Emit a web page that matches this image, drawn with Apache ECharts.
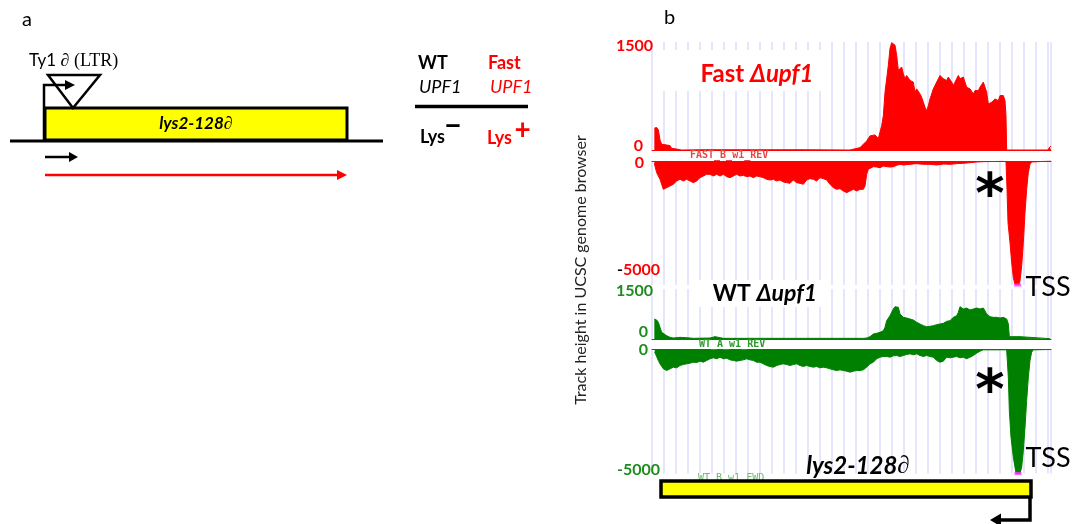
<!DOCTYPE html>
<html><head><meta charset="utf-8">
<script src="https://cdn.jsdelivr.net/npm/echarts@6/dist/echarts.min.js"></script>
<style>html,body{margin:0;padding:0;background:#fff}#c{width:1078px;height:524px}</style>
</head><body><div id="c"></div>
<script>
// ---- data: position along the locus (arbitrary units), track height ----
const fastFwd = [[7,303],[14,313],[19,280],[24,140],[29,79],[44,70],[54,61],[59,23],[79,9],[89,0],[160,4],[300,3],[450,4],[594,0],[624,33],[634,79],[644,126],[654,196],[659,219],[669,210],[679,159],[684,173],[689,336],[694,476],[699,803],[704,989],[709,1176],[714,1409],[719,1490],[724,1500],[729,1456],[734,1316],[739,1106],[744,1083],[749,1153],[754,1059],[759,989],[764,1036],[769,1059],[774,966],[779,989],[784,943],[789,803],[794,849],[799,873],[804,779],[809,733],[814,663],[819,593],[824,546],[829,616],[834,709],[839,779],[844,849],[849,896],[854,919],[859,989],[864,1036],[869,1013],[874,989],[879,1013],[884,966],[889,1013],[894,1036],[899,943],[904,896],[909,919],[914,989],[919,1036],[924,989],[929,989],[934,1013],[939,989],[944,873],[949,849],[954,849],[959,826],[964,779],[969,826],[974,849],[979,826],[984,873],[989,896],[994,943],[999,966],[1004,803],[1009,639],[1014,616],[1019,663],[1024,639],[1029,709],[1034,733],[1039,686],[1044,756],[1049,779],[1054,756],[1059,686],[1062,471],[1064,0],[1188,0],[1193,40],[1197,55]];

const fastRev = [[7,-100],[14,-470],[24,-739],[34,-1142],[44,-1075],[49,-1142],[54,-1008],[59,-1075],[64,-940],[74,-806],[84,-739],[94,-806],[104,-739],[114,-806],[124,-873],[134,-806],[144,-672],[154,-605],[164,-537],[174,-537],[184,-605],[194,-537],[204,-605],[214,-537],[224,-631],[234,-672],[244,-605],[254,-537],[264,-605],[274,-578],[284,-631],[294,-605],[304,-672],[314,-605],[324,-631],[334,-672],[344,-739],[354,-766],[364,-739],[374,-806],[384,-766],[394,-846],[404,-873],[414,-900],[424,-766],[434,-873],[444,-900],[454,-940],[464,-766],[474,-712],[484,-739],[494,-806],[504,-672],[514,-712],[524,-766],[534,-940],[544,-1075],[554,-1142],[564,-1115],[574,-1209],[584,-1276],[594,-1209],[604,-1142],[614,-1209],[624,-1142],[634,-1142],[639,-1008],[644,-537],[649,-336],[654,-269],[664,-228],[674,-242],[684,-269],[694,-202],[704,-228],[714,-242],[724,-228],[734,-175],[744,-134],[754,-161],[774,-134],[794,-107],[814,-134],[834,-134],[854,-161],[874,-121],[894,-134],[914,-107],[934,-94],[954,-67],[974,-40],[994,-27],[1054,-13],[1062,-27],[1065,-1142],[1068,-2485],[1074,-3291],[1079,-4097],[1084,-4702],[1089,-4984],[1094,-5000],[1100,-5000],[1104,-4836],[1109,-4231],[1114,-3291],[1119,-2082],[1124,-1142],[1129,-470],[1134,-134],[1139,-40],[1144,0],[1197,0]];

const wtFwd = [[7,600],[14,570],[19,500],[24,350],[29,200],[34,150],[44,100],[54,50],[64,30],[84,50],[104,40],[124,20],[174,30],[189,70],[194,50],[214,20],[254,20],[400,20],[634,20],[644,30],[654,70],[664,150],[674,170],[684,200],[694,250],[699,350],[704,550],[714,700],[724,900],[729,970],[734,1000],[739,950],[744,750],[749,700],[754,650],[764,630],[774,600],[784,570],[794,500],[804,450],[814,400],[824,370],[834,380],[844,400],[854,430],[864,450],[874,470],[884,530],[894,550],[904,650],[914,700],[919,800],[924,970],[934,900],[944,930],[954,870],[964,900],[969,850],[974,930],[984,900],[989,950],[994,930],[1004,750],[1014,670],[1024,650],[1034,650],[1044,630],[1054,650],[1064,600],[1069,450],[1072,70],[1104,70],[1109,30],[1194,10]];

const wtRev = [[8,-100],[14,-175],[19,-443],[24,-578],[34,-780],[44,-847],[54,-780],[64,-712],[74,-739],[84,-645],[94,-605],[104,-578],[114,-551],[124,-511],[134,-524],[144,-470],[154,-511],[164,-443],[174,-376],[184,-336],[194,-376],[204,-309],[214,-376],[224,-349],[234,-417],[244,-443],[254,-470],[264,-443],[274,-417],[284,-376],[294,-417],[304,-443],[314,-511],[324,-511],[334,-578],[344,-645],[354,-685],[364,-712],[374,-645],[384,-605],[394,-578],[404,-605],[414,-645],[424,-605],[434,-578],[444,-645],[454,-685],[464,-645],[474,-685],[484,-712],[494,-685],[504,-739],[514,-712],[524,-739],[534,-780],[544,-820],[554,-847],[564,-820],[574,-847],[584,-874],[594,-914],[604,-874],[614,-847],[624,-847],[634,-820],[644,-712],[654,-578],[664,-511],[674,-376],[684,-309],[694,-282],[704,-282],[714,-309],[724,-255],[734,-242],[744,-282],[754,-242],[764,-202],[774,-175],[784,-215],[794,-175],[804,-242],[814,-282],[824,-242],[834,-282],[844,-309],[854,-443],[864,-511],[874,-470],[884,-309],[894,-336],[904,-309],[914,-282],[924,-336],[934,-309],[944,-376],[954,-309],[964,-242],[974,-148],[984,-67],[994,-13],[1064,-13],[1069,-1115],[1072,-2460],[1077,-3535],[1084,-4341],[1089,-4744],[1092,-5000],[1104,-5000],[1109,-4744],[1114,-4072],[1119,-3131],[1124,-2056],[1129,-1115],[1134,-443],[1139,-108],[1144,-13],[1194,0]];

// clipped (off-scale) peaks marked in magenta
const fastClip = [[1097,-5000]];
const wtClip = [[1098,-5000]];

// axis ticks
const fwdTicks = [0, 1500];
const revTicks = [-5000, 0];
const locusRange = [0, 1197];
const trackNames = ['FAST_B_w1_REV', 'WT_A_w1_REV', 'WT_B_w1_FWD'];

const RED = '#ff0000', GREEN = '#008000', GLAB = '#1c8c1c';
const LF = 'Lato, "Open Sans", sans-serif';

function rs(color, pad){ return {color:color, fontSize:16, fontWeight:'bold', fontFamily:LF, padding:pad}; }

const grids = [
  {left:652, top:42, width:399, height:108},
  {left:652, top:161, width:399, height:124},
  {left:652, top:289, width:399, height:50},
  {left:652, top:349.5, width:399, height:124}
];
const trackColor = [RED, RED, GREEN, GREEN];
const isFwd = [true, false, true, false];

const xAxes = grids.map((g,i)=>({
  type:'value', gridIndex:i, min:locusRange[0], max:locusRange[1], interval:36,
  position: isFwd[i] ? 'bottom' : 'top',
  axisLabel:{show:false}, axisTick:{show:false},
  axisLine:{show:true, onZero:true, lineStyle:{color:trackColor[i], width:1}},
  splitLine:{show:true, lineStyle:{color:'#dcdcfa', width:1.5}}
}));

const yRich = [
  {t:rs(RED,[8,7,0,0]), b:rs(RED,[0,17,8,0])},
  {t:rs(RED,[4,16,0,0]), k:rs('#000',[0,0,30,0]), r:rs(RED,[0,0,30,0])},
  {t:rs(GLAB,[4,7,0,0]), b:rs(GLAB,[0,12,14,0])},
  {t:rs(GLAB,[0,12,0,0]), b:rs(GLAB,[0,0,7,0])}
];
const yFmt = [
  v => v === fwdTicks[1] ? '{t|' + v + '}' : '{b|' + v + '}',
  v => v === revTicks[1] ? '{t|' + v + '}' : '{k|-}{r|' + Math.abs(v) + '}',
  v => v === fwdTicks[1] ? '{t|' + v + '}' : '{b|' + v + '}',
  v => v === revTicks[1] ? '{t|' + v + '}' : '{b|' + v + '}'
];
const yAxes = grids.map((g,i)=>{
  const t = isFwd[i] ? fwdTicks : revTicks;
  return {type:'value', gridIndex:i, min:t[0], max:t[1], interval:t[1]-t[0],
    axisLine:{show:false}, axisTick:{show:false}, splitLine:{show:false},
    axisLabel:{margin:-8, formatter:yFmt[i], rich:yRich[i]}};
});

const trackData = [fastFwd, fastRev, wtFwd, wtRev];
const series = trackData.map((d,i)=>({
  type:'line', xAxisIndex:i, yAxisIndex:i, data:d, showSymbol:false, silent:true,
  lineStyle:{color:trackColor[i], width:1}, areaStyle:{color:trackColor[i], opacity:1}, z:3
}));
series.push({type:'scatter', xAxisIndex:1, yAxisIndex:1, data:fastClip, symbol:'rect', symbolSize:[7,3], itemStyle:{color:'#ff33ff'}, clip:false, silent:true, z:4});
series.push({type:'scatter', xAxisIndex:3, yAxisIndex:3, data:wtClip, symbol:'rect', symbolSize:[7,3], itemStyle:{color:'#ff33ff'}, clip:false, silent:true, z:4});

function T(x,y,text,font,fill,align,valign,extra){
  const el = {type:'text', x:x, y:y, z:60, style:Object.assign({text:text, font:font, fill:fill||'#000',
    align:align||'left', verticalAlign:valign||'middle', textAlign:align||'left', textVerticalAlign:valign||'middle'}, extra||{})};
  return el;
}
function L(points, color, w, z){ return {type:'polyline', z:z||60, shape:{points:points}, style:{stroke:color, lineWidth:w, fill:null}}; }
function P(points, color, z){ return {type:'polygon', z:z||60, shape:{points:points}, style:{fill:color}}; }

const axisTitle = T(581,270,'Track height in UCSC genome browser','16px '+LF,'#222','center','middle');
axisTitle.rotation = Math.PI/2;

const graphics = [
  // panel labels
  T(22,20,'a','20px '+LF,'#000'),
  T(664,18,'b','20px '+LF,'#000'),
  // ---- panel a ----
  T(29,61,'{s|Ty1 }{d|∂}{m| (LTR)}','17px Lato','#000','left','middle',{rich:{
    s:{font:'17px Lato', fill:'#000'}, d:{font:'italic 18px "Liberation Serif"', fill:'#000'}, m:{font:'18px "Liberation Serif"', fill:'#000'}}}),
  L([[10,141],[383,141]],'#000',3),
  {type:'rect', z:59, shape:{x:45,y:108,width:302,height:32}, style:{fill:'#ffff00', stroke:'#000', lineWidth:3}},
  T(196,124,'{i|lys2-128}{d|∂}','bold italic 17px Lato','#000','center','middle',{rich:{
    i:{font:'bold italic 17px Lato', fill:'#000'}, d:{font:'italic 18px "Liberation Serif"', fill:'#000'}}}),
  {type:'polygon', z:60, shape:{points:[[48,75],[100,75],[73,108]]}, style:{fill:null, stroke:'#000', lineWidth:2.5}},
  L([[44,140],[44,85],[66,85]],'#000',2.5),
  P([[65,80],[75,85],[65,90]],'#000'),
  L([[45,157],[70,157]],'#000',2.5),
  P([[69,152],[78,157],[69,162]],'#000'),
  L([[45,175],[338,175]],'#ff0000',2.5),
  P([[337,170],[347,175],[337,180]],'#ff0000'),
  // legend of panel a
  T(418,63,'WT','bold 18px '+LF,'#000'),
  T(488,63,'Fast','bold 18px '+LF,RED),
  T(419,87,'UPF1','italic 18px '+LF,'#000'),
  T(490,87,'UPF1','italic 18px '+LF,RED),
  L([[415,106.5],[528,106.5]],'#000',3.5),
  T(420,137,'Lys','bold 18px '+LF,'#000'),
  T(453,126,'−','bold 30px '+LF,'#000','center','middle'),
  T(487,138,'Lys','bold 18px '+LF,RED),
  T(522.5,130,'+','bold 28px '+LF,RED,'center','middle'),
  // ---- panel b ----
  axisTitle,
  {type:'rect', z:50, shape:{x:660,y:50,width:162,height:41}, style:{fill:'#fff'}},
  T(757,74,'{a|Fast }{b|Δupf1}','bold 24px '+LF,RED,'center','middle',{rich:{
    a:{font:'bold 24px '+LF, fill:RED}, b:{font:'italic bold 24px '+LF, fill:RED}}}),
  {type:'rect', z:50, shape:{x:697,y:280,width:133,height:27}, style:{fill:'#fff'}},
  T(765,294,'{a|WT }{b|Δupf1}','bold 23px '+LF,'#000','center','middle',{rich:{
    a:{font:'bold 23px '+LF, fill:'#000'}, b:{font:'italic bold 23px '+LF, fill:'#000'}}}),
  T(690,155,trackNames[0],'bold 10px "DejaVu Sans Mono"','#e84848'),
  T(699,344,trackNames[1],'bold 10px "DejaVu Sans Mono"','#2a9a2a'),
  T(698,478.5,trackNames[2],'10px "DejaVu Sans Mono"','#6fb86f'),
  T(990,197,'*','bold 56px "DejaVu Sans"','#000','center','middle'),
  T(990,393,'*','bold 56px "DejaVu Sans"','#000','center','middle'),
  T(1048,287,'TSS','27px '+LF,'#000','center','middle'),
  T(1048,458,'TSS','27px '+LF,'#000','center','middle'),
  T(858,466,'{i|lys2-128}{d|∂}','bold italic 24px '+LF,'#000','center','middle',{rich:{
    i:{font:'bold italic 24px '+LF, fill:'#000'}, d:{font:'italic 25px "Liberation Serif"', fill:'#000'}}}),
  {type:'rect', z:61, shape:{x:661,y:481,width:370,height:16}, style:{fill:'#ffff00', stroke:'#000', lineWidth:3.5}},
  L([[1030,497],[1030,520],[1000,520]],'#000',3.5),
  P([[1001,513.5],[990,520],[1001,526.5]],'#000')
];

const chart = echarts.init(document.getElementById('c'), null, {renderer:'canvas'});
chart.setOption({
  animation:false,
  backgroundColor:'#fff',
  grid:grids,
  xAxis:xAxes,
  yAxis:yAxes,
  series:series,
  graphic:{elements:graphics}
});
</script>
</body></html>
